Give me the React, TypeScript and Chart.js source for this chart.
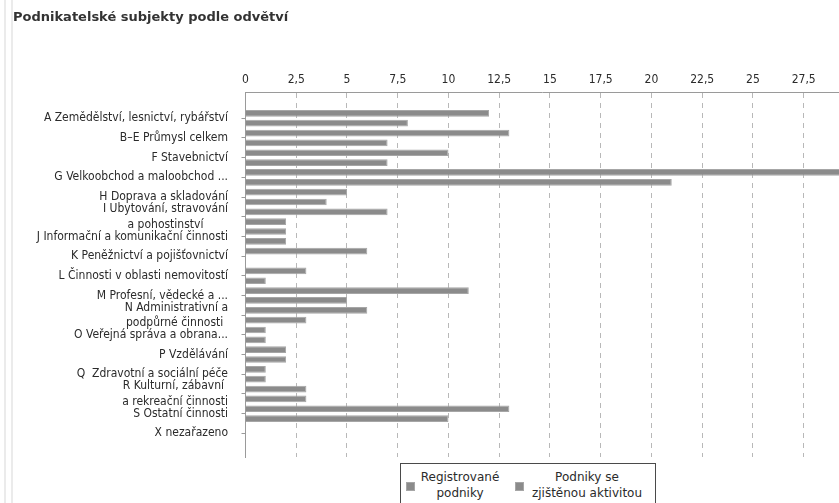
import React, { useEffect, useRef } from "react";
import { Chart, registerables } from "chart.js";

Chart.register(...registerables);

const title = "Podnikatelské subjekty podle odvětví";
const categories: string[][] = [
  ["A Zemědělství, lesnictví, rybářství"],
  ["B–E Průmysl celkem"],
  ["F Stavebnictví"],
  ["G Velkoobchod a maloobchod ..."],
  ["H Doprava a skladování"],
  ["I Ubytování, stravování", "a pohostinství"],
  ["J Informační a komunikační činnosti"],
  ["K Peněžnictví a pojišťovnictví"],
  ["L Činnosti v oblasti nemovitostí"],
  ["M Profesní, vědecké a ..."],
  ["N Administrativní a", "podpůrné činnosti "],
  ["O Veřejná správa a obrana..."],
  ["P Vzdělávání"],
  ["Q  Zdravotní a sociální péče"],
  ["R Kulturní, zábavní ", "a rekreační činnosti"],
  ["S Ostatní činnosti"],
  ["X nezařazeno"],
];
const seriesNames: string[][] = [
  ["Registrované", "podniky"],
  ["Podniky se", "zjištěnou aktivitou"],
];
const registered = [12, 13, 10, 30, 5, 7, 2, 6, 3, 11, 6, 1, 2, 1, 3, 13, 0];
const active = [8, 7, 7, 21, 4, 2, 2, 0, 1, 5, 3, 1, 2, 1, 3, 10, 0];
const xStep = 2.5;
const xMax = 29.24;

const FONT = "'DejaVu Sans Condensed', 'DejaVu Sans', sans-serif";
const BAR_FILL = "#8b8b8b";
const BAR_EDGE = "#a6a6a6";

const labelPlugin = {
  id: "catLabels",
  afterDraw(chart: any) {
    const y = chart.scales.y;
    const ctx = chart.ctx;
    ctx.save();
    ctx.font = `12px ${FONT}`;
    ctx.fillStyle = "#2b2b2b";
    ctx.textAlign = "center";
    ctx.textBaseline = "middle";
    const right = y.right - 17.5;
    const lh = 15.5;
    categories.forEach((lines, i) => {
      const w = Math.max(...lines.map((l) => ctx.measureText(l).width));
      const cx = right - w / 2;
      const py = y.getPixelForValue(i);
      const y0 = py - ((lines.length - 1) * lh) / 2;
      lines.forEach((l, k) => ctx.fillText(l, cx, y0 + k * lh));
    });
    ctx.restore();
  },
};

export default function App() {
  const ref = useRef<HTMLCanvasElement>(null);
  useEffect(() => {
    if (!ref.current) return;
    const mk = (vals: number[]) => vals.map((v, i) => ({ x: v, y: i }));
    const chart = new Chart(ref.current, {
      type: "bar",
      data: {
        datasets: [
          {
            label: seriesNames[0].join(" "),
            data: mk(registered),
            backgroundColor: BAR_FILL,
            borderColor: BAR_EDGE,
            borderWidth: 1,
            categoryPercentage: 1,
            barPercentage: 0.68,
          },
          {
            label: seriesNames[1].join(" "),
            data: mk(active),
            backgroundColor: BAR_FILL,
            borderColor: BAR_EDGE,
            borderWidth: 1,
            categoryPercentage: 1,
            barPercentage: 0.68,
          },
        ] as any,
      },
      options: {
        indexAxis: "y",
        animation: false,
        responsive: false,
        devicePixelRatio: 1,
        layout: { padding: { left: 0, right: 0, top: 60, bottom: 46 } },
        plugins: { legend: { display: false }, tooltip: { enabled: false }, title: { display: false } },
        scales: {
          x: {
            type: "linear",
            position: "top",
            min: 0,
            max: xMax,
            afterBuildTicks: (axis: any) => {
              axis.ticks = axis.ticks.filter(
                (t: any) => Math.abs(t.value / xStep - Math.round(t.value / xStep)) < 1e-6
              );
            },
            afterFit: (scale: any) => {
              scale.height = 32;
            },
            ticks: {
              stepSize: xStep,
              includeBounds: false,
              autoSkip: false,
              maxRotation: 0,
              padding: 5,
              color: "#2b2b2b",
              font: { family: FONT, size: 12 },
              callback: (v: any) => String(v).replace(".", ","),
            },
            grid: { color: "#b8b8b8", drawTicks: false, lineWidth: 1 },
            border: { display: true, color: "#9a9a9a", dash: [5, 5] },
          },
          y: {
            type: "linear",
            reverse: true,
            offset: false,
            min: -1.335,
            max: 17.2,
            afterBuildTicks: (axis: any) => {
              axis.ticks = categories.map((_, i) => ({ value: i }));
            },
            afterFit: (scale: any) => {
              scale.width = 245.5;
            },
            ticks: { display: false },
            grid: { drawOnChartArea: false, drawTicks: true, tickLength: 4, color: "#9a9a9a", offset: false },
            border: { display: true, color: "#9a9a9a" },
          },
        },
      } as any,
      plugins: [labelPlugin],
    });
    return () => chart.destroy();
  }, []);

  const legendText: React.CSSProperties = {
    position: "absolute",
    textAlign: "center",
    lineHeight: "15.5px",
    fontSize: 12,
    color: "#2b2b2b",
    whiteSpace: "nowrap",
  };
  const swatch: React.CSSProperties = {
    position: "absolute",
    width: 7,
    height: 7,
    background: BAR_FILL,
    border: `1px solid ${BAR_EDGE}`,
  };

  return (
    <div
      style={{
        position: "absolute",
        left: 0,
        top: 0,
        width: 839,
        height: 503,
        overflow: "hidden",
        background: "#fff",
        fontFamily: FONT,
      }}
    >
      <div style={{ position: "absolute", left: 4, top: 0, width: 2, height: 503, background: "#ebebeb" }} />
      <div style={{ position: "absolute", left: 11, top: 0, width: 2, height: 503, background: "#ebebeb" }} />
      <canvas ref={ref} width={839} height={503} style={{ position: "absolute", left: 0, top: 0 }} />
      <div
        style={{
          position: "absolute",
          left: 13,
          top: 9,
          fontFamily: "'DejaVu Sans', sans-serif",
          fontWeight: "bold",
          fontSize: 13,
          color: "#333",
          whiteSpace: "nowrap",
        }}
      >
        {title}
      </div>
      <div
        style={{
          position: "absolute",
          left: 400,
          top: 463,
          width: 254,
          height: 60,
          border: "1px solid #4a4a4a",
          background: "#fff",
          fontFamily: "'DejaVu Sans', sans-serif",
        }}
      >
        <div style={{ ...swatch, left: 5, top: 18 }} />
        <div style={{ ...legendText, left: 9, width: 100, top: 6 }}>
          {seriesNames[0][0]}
          <br />
          {seriesNames[0][1]}
        </div>
        <div style={{ ...swatch, left: 114, top: 18 }} />
        <div style={{ ...legendText, left: 121, width: 130, top: 6 }}>
          {seriesNames[1][0]}
          <br />
          {seriesNames[1][1]}
        </div>
      </div>
    </div>
  );
}
